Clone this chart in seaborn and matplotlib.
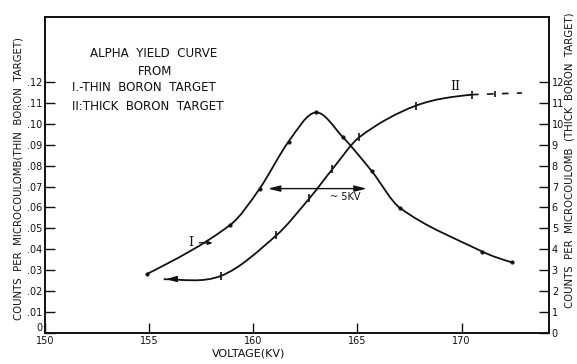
import numpy as np
import pandas as pd
import matplotlib
matplotlib.use("Agg")
import matplotlib.pyplot as plt
from matplotlib.path import Path
from matplotlib.patches import PathPatch
import seaborn as sns

# Curve I: thin boron target (counts per microcoulomb)
thin_kv = [154.9, 158.9, 160.3, 161.7, 163.0, 164.3, 165.7, 167.05, 171.0, 172.4]
thin_counts = [0.0282, 0.0517, 0.0689, 0.0915, 0.1054, 0.0936, 0.0772, 0.0597, 0.0389, 0.0338]

# Curve II: thick boron target (right-hand scale, counts per microcoulomb)
thick_kv = [155.7, 158.45, 161.1, 162.7, 163.8, 165.1, 167.8, 170.5]
thick_counts = [2.57, 2.73, 4.66, 6.44, 7.83, 9.36, 10.86, 11.39]
thick_tail_kv = [170.5, 172.9]
thick_tail_counts = [11.39, 11.47]

x_ticks = [150, 155, 160, 165, 170]
left_ticks = [0, .01, .02, .03, .04, .05, .06, .07, .08, .09, .10, .11, .12]
left_labels = ["0", ".01", ".02", ".03", ".04", ".05", ".06", ".07", ".08", ".09", ".10", ".11", ".12"]
right_ticks = list(range(0, 13))
right_labels = [str(v) for v in right_ticks]

sns.set_theme(style="ticks")
plt.rcParams["font.family"] = ["DejaVu Sans"]

fig = plt.figure(figsize=(5.77, 3.64), dpi=100)
ax = fig.add_axes([45 / 577, 31 / 364, 504 / 577, 316 / 364])
ax.set_xlim(150, 174.2)
ax.set_ylim(0, 0.151)

ink = "#111111"


def smooth_path(xs, ys):
    """Hermite curve through the points (centred slopes), as cubic Bezier segments."""
    x = np.asarray(xs, float)
    y = np.asarray(ys, float)
    h = np.diff(x)
    d = np.diff(y) / h
    m = np.empty_like(x)
    for i in range(1, len(x) - 1):
        m[i] = (y[i + 1] - y[i - 1]) / (x[i + 1] - x[i - 1])
    m[0] = (3 * d[0] - m[1]) / 2
    m[-1] = (3 * d[-1] - m[-2]) / 2
    if np.sign(m[0]) != np.sign(d[0]):
        m[0] = 0.0
    if np.sign(m[-1]) != np.sign(d[-1]):
        m[-1] = 0.0
    verts = [(x[0], y[0])]
    codes = [Path.MOVETO]
    for i in range(len(x) - 1):
        verts += [(x[i] + h[i] / 3, y[i] + m[i] * h[i] / 3),
                  (x[i + 1] - h[i] / 3, y[i + 1] - m[i + 1] * h[i] / 3),
                  (x[i + 1], y[i + 1])]
        codes += [Path.CURVE4] * 3
    return Path(verts, codes)


# Curve I
ax.add_patch(PathPatch(smooth_path(thin_kv, thin_counts), fill=False, lw=1.3, ec=ink))
thin_df = pd.DataFrame({"kv": thin_kv, "counts": thin_counts})
sns.scatterplot(data=thin_df, x="kv", y="counts", ax=ax, color=ink, s=6, marker="o",
                edgecolor=ink, linewidth=0.5, zorder=3, legend=False)

# Curve II, drawn against the right-hand scale (same pixel scale, factor 100)
thick_y = [v / 100 for v in thick_counts]
ax.add_patch(PathPatch(smooth_path(thick_kv, thick_y), fill=False, lw=1.3, ec=ink))
thick_df = pd.DataFrame({"kv": thick_kv[1:], "counts": thick_y[1:]})
sns.scatterplot(data=thick_df, x="kv", y="counts", ax=ax, color=ink, s=30, marker="|",
                linewidth=1.2, zorder=3, legend=False)
ax.plot(thick_tail_kv, [v / 100 for v in thick_tail_counts], color=ink, lw=1.2,
        dashes=(4, 5))
ax.plot([171.6], [0.1143], marker="|", color=ink, ms=5, mew=1.2)
# arrow head at the start of curve II
ax.annotate("", xy=(thick_kv[0], thick_y[0]), xytext=(thick_kv[0] + 0.6, thick_y[0] + 0.0001),
            arrowprops=dict(arrowstyle="-|>,head_length=0.5,head_width=0.15", color=ink, lw=1.0))

# Shift between the two curves
ax.annotate("", xy=(160.7, 0.0690), xytext=(165.45, 0.0690),
            arrowprops=dict(arrowstyle="<|-|>,head_length=0.6,head_width=0.15", color=ink,
                            lw=1.0, shrinkA=0, shrinkB=0))
ax.text(163.7, 0.0648, "~ 5KV", fontsize=7, color=ink, va="center", ha="left")

# Curve labels
ax.annotate("I", xy=(158.05, 0.0430), xytext=(157.0, 0.0432),
            fontsize=9, family="DejaVu Serif", ha="center", va="center", color=ink,
            arrowprops=dict(arrowstyle="-|>,head_length=0.3,head_width=0.12", color=ink,
                            lw=0.9, shrinkA=2, shrinkB=0))
ax.annotate("II", xy=(170.4, 0.1136), xytext=(169.7, 0.1178),
            fontsize=9, family="DejaVu Serif", ha="center", va="center", color=ink,
            arrowprops=dict(arrowstyle="-", color=ink, lw=0.9, shrinkA=6, shrinkB=0,
                            connectionstyle="arc3,rad=-0.3"))

# Caption block
ax.text(0.215, 0.883, "ALPHA  YIELD  CURVE", transform=ax.transAxes, fontsize=8.6,
        ha="center", va="center", color=ink)
ax.text(0.218, 0.829, "FROM", transform=ax.transAxes, fontsize=8.6,
        ha="center", va="center", color=ink)
ax.text(0.054, 0.778, "I.-THIN  BORON  TARGET", transform=ax.transAxes, fontsize=8.6,
        ha="left", va="center", color=ink)
ax.text(0.054, 0.718, "II:THICK  BORON  TARGET", transform=ax.transAxes, fontsize=8.6,
        ha="left", va="center", color=ink)

# Axes styling
ax.set_xticks(x_ticks)
ax.set_xticklabels([str(v) for v in x_ticks])
ax.set_yticks(left_ticks)
ax.set_yticklabels(left_labels)
ax.tick_params(direction="in", length=7, width=1.0, colors=ink, labelsize=7, pad=2)
ax.get_yticklabels()[0].set_verticalalignment("bottom")
ax.set_xlabel("")
ax.set_ylabel("")
for s in ax.spines.values():
    s.set_linewidth(1.2)
    s.set_color(ink)
    s.set_visible(True)

ax2 = ax.twinx()
ax2.set_ylim(0, 15.1)
ax2.set_yticks(right_ticks)
ax2.set_yticklabels(right_labels)
ax2.tick_params(direction="in", length=7, width=1.0, colors=ink, labelsize=7, pad=2)
for s in ax2.spines.values():
    s.set_linewidth(1.2)
    s.set_color(ink)

fig.text(249 / 577, 1 - 353 / 364, "VOLTAGE(KV)", fontsize=8, ha="center", va="center",
         color=ink)
fig.text(19 / 577, 1 - 178 / 364, "COUNTS  PER  MICROCOULOMB(THIN  BORON  TARGET)",
         fontsize=7.3, rotation=90, ha="center", va="center", color=ink)
fig.text(569 / 577, 1 - 160 / 364, "COUNTS  PER  MICROCOULOMB  (THICK  BORON  TARGET)",
         fontsize=7.3, rotation=90, ha="center", va="center", color=ink)

fig.savefig("out.png", dpi=100, facecolor="white")
